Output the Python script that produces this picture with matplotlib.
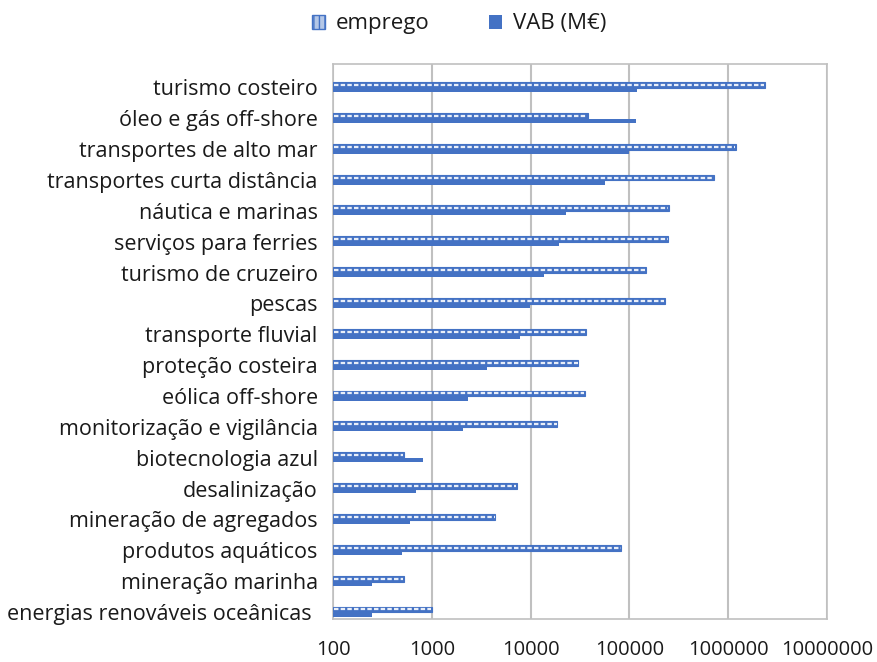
import matplotlib
matplotlib.use("Agg")
import matplotlib.pyplot as plt
import numpy as np
from matplotlib.patches import Patch

plt.rcParams['font.family'] = ['Open Sans', 'DejaVu Sans']

categories = [
    "turismo costeiro", "óleo e gás off-shore", "transportes de alto mar",
    "transportes curta distância", "náutica e marinas", "serviços para ferries",
    "turismo de cruzeiro", "pescas", "transporte fluvial", "proteção costeira",
    "eólica off-shore", "monitorização e vigilância", "biotecnologia azul",
    "desalinização", "mineração de agregados", "produtos aquáticos",
    "mineração marinha", "energias renováveis oceânicas ",
]
emprego = [2370000, 37700, 1200000, 710000, 252000, 248000,
           148000, 230000, 36500, 30500, 35800, 18700,
           520, 7200, 4400, 83000, 520, 1000]
vab = [120000, 117000, 98000, 57000, 23000, 19600,
       13800, 9800, 7900, 3600, 2350, 2050,
       810, 700, 600, 500, 250, 250]
xticks = [100, 1000, 10000, 100000, 1000000, 10000000]
xticklabels = ["100", "1000", "10000", "100000", "1000000", "10000000"]

blue = '#4472c4'
grid = '#c0c0c0'
txt = '#1a1a1a'

fig = plt.figure(figsize=(8.78, 6.62), dpi=100)
ax = fig.add_axes([333/878, 1-619/662, (827-333)/878, (619-64)/662])

y = np.arange(len(categories))
base = 100
emp = np.array(emprego)
# emprego: blue outlined bar with white dashed centre line
ax.barh(y - 0.08, emp - base, left=base, height=0.19,
        color=blue, edgecolor=blue, linewidth=0.8, zorder=3)
ax.hlines(y - 0.08, base * 1.02, emp * 0.98, colors='#e8eef8',
          linewidth=1.6, linestyles=(0, (2.0, 1.0)), zorder=4)
ax.barh(y + 0.085, np.array(vab) - base, left=base, height=0.13,
        color=blue, edgecolor='none', zorder=3)

ax.set_xscale('log')
ax.set_xlim(100, 10000000)
ax.set_ylim(17.23, -0.76)
ax.set_xticks(xticks)
ax.set_xticklabels(xticklabels)
ax.minorticks_off()
ax.set_yticks(y)
ax.set_yticklabels(categories)
ax.tick_params(axis='y', length=0, pad=11, labelsize=15.5, labelcolor=txt)
ax.tick_params(axis='x', length=0, pad=15, labelsize=14.5, labelcolor=txt)
ax.xaxis.grid(True, color=grid, linewidth=1.5, zorder=0)
ax.set_axisbelow(True)
for s in ax.spines.values():
    s.set_color(grid)
    s.set_linewidth(1.2)

h1 = Patch(facecolor='#b4c7e7', edgecolor=blue, hatch='|||', linewidth=1)
h2 = Patch(facecolor=blue, edgecolor='none')
leg = fig.legend([h1, h2], ["emprego", "VAB (M€)"], loc='center',
                 bbox_to_anchor=(459/878, 1-24/662), ncol=2, frameon=False,
                 fontsize=16, handlelength=0.6, handleheight=0.6,
                 columnspacing=2.65, handletextpad=0.5)
for t in leg.get_texts():
    t.set_color(txt)

fig.savefig("out.png", dpi=100)
